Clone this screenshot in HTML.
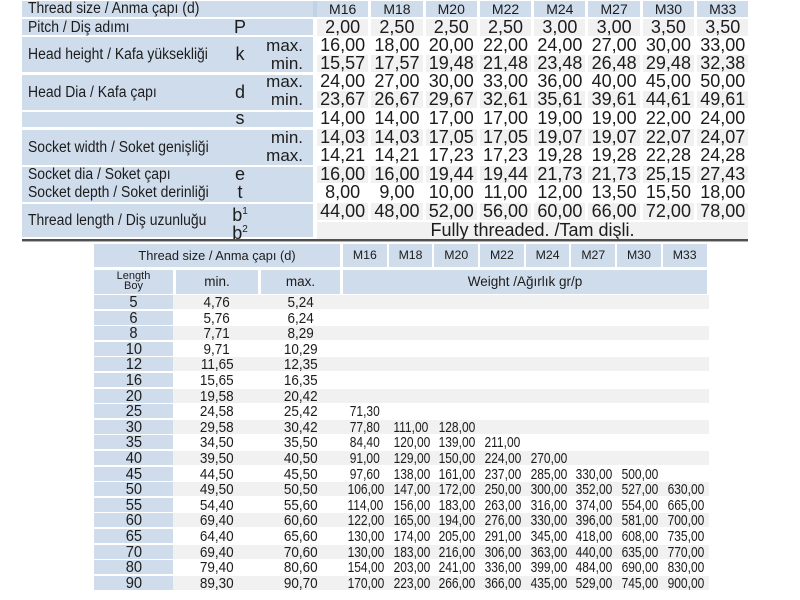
<!DOCTYPE html>
<html><head><meta charset="utf-8">
<style>
*{margin:0;padding:0;box-sizing:border-box}
html,body{width:800px;height:600px;background:#fff;overflow:hidden}
body{position:relative;font-family:"Liberation Sans","DejaVu Sans",sans-serif;color:#1c1c1c}
.a{position:absolute}
.b{background:#cfdcec}
.g{background:#f1f1f1}
.lab{position:absolute;left:28px;font-size:15.5px;white-space:nowrap;transform:scaleX(0.9);transform-origin:0 50%}
.sym{position:absolute;left:229px;width:22px;text-align:center;font-size:18px}
.mm{position:absolute;right:497px;font-size:17px;text-align:right}
.r{position:absolute;left:317px;display:flex;gap:3px;font-size:18px}
.r span{width:51.3px;text-align:center;display:block;white-space:nowrap}
.lr{position:absolute;left:94px;display:flex;height:14px;line-height:15px;font-size:15px}
.lr span{display:block;text-align:center;white-space:nowrap}
.lr b{font-weight:normal;display:inline-block;transform:scaleX(0.9)}
.lr .L{width:79px;background:#cfdcec;margin-right:3px;font-size:16px}
.lr .L b{transform:scaleX(0.92)}
.lr .mn{width:82px;margin-right:3px}
.lr .mx{width:79px;margin-right:3px}
.lr .w{width:43.7px;margin-right:2px;font-size:15px}
.lr .w b{transform:scaleX(0.8)}
.lr.g .mn,.lr.g .mx,.lr.g .w{background:#f1f1f1}
</style></head><body>

<div class="a b" style="left:22px;top:1px;width:291px;height:16px"></div>
<div class="a b" style="left:22px;top:19px;width:291px;height:16px"></div>
<div class="a b" style="left:22px;top:37px;width:291px;height:35px"></div>
<div class="a b" style="left:22px;top:75px;width:291px;height:35px"></div>
<div class="a b" style="left:22px;top:112px;width:291px;height:15px"></div>
<div class="a b" style="left:22px;top:130px;width:291px;height:35px"></div>
<div class="a b" style="left:22px;top:167px;width:291px;height:35px"></div>
<div class="a b" style="left:22px;top:204px;width:291px;height:33px"></div>
<div class="a" style="left:313px;top:1px;width:4px;height:16px;background:#c3d3e6"></div>

<div class="lab" style="top:1px;line-height:16px">Thread size / Anma çapı (d)</div>
<div class="lab" style="top:19px;line-height:17px">Pitch / Diş adımı</div>
<div class="lab" style="top:37px;line-height:35px">Head height / Kafa yüksekliği</div>
<div class="lab" style="top:75px;line-height:35px">Head Dia / Kafa çapı</div>
<div class="lab" style="top:130px;line-height:35px">Socket width / Soket genişliği</div>
<div class="lab" style="top:166px;line-height:17px">Socket dia / Soket çapı</div>
<div class="lab" style="top:184px;line-height:17px">Socket depth / Soket derinliği</div>
<div class="lab" style="top:204px;line-height:33px">Thread length / Diş uzunluğu</div>

<div class="sym" style="top:19px;line-height:17px">P</div>
<div class="sym" style="top:37px;line-height:35px">k</div>
<div class="sym" style="top:75px;line-height:35px">d</div>
<div class="sym" style="top:110px;line-height:17px">s</div>
<div class="sym" style="top:166px;line-height:17px">e</div>
<div class="sym" style="top:184px;line-height:17px">t</div>
<div class="sym" style="top:203px;line-height:17px">b<sup style="font-size:10px">1</sup></div>
<div class="sym" style="top:221px;line-height:17px">b<sup style="font-size:10px">2</sup></div>

<div class="mm" style="top:37px;line-height:17px">max.</div>
<div class="mm" style="top:55px;line-height:17px">min.</div>
<div class="mm" style="top:73px;line-height:17px">max.</div>
<div class="mm" style="top:91px;line-height:17px">min.</div>
<div class="mm" style="top:129px;line-height:17px">min.</div>
<div class="mm" style="top:147px;line-height:17px">max.</div>

<div class="r" style="top:1px;height:16px;line-height:16px;font-size:14px"><span class="b">M16</span><span class="b">M18</span><span class="b">M20</span><span class="b">M22</span><span class="b">M24</span><span class="b">M27</span><span class="b">M30</span><span class="b">M33</span></div>
<div class="r" style="top:19px;height:17px;line-height:17px"><span class="g">2,00</span><span class="g">2,50</span><span class="g">2,50</span><span class="g">2,50</span><span class="g">3,00</span><span class="g">3,00</span><span class="g">3,50</span><span class="g">3,50</span></div>
<div class="r" style="top:37px;height:17px;line-height:17px"><span>16,00</span><span>18,00</span><span>20,00</span><span>22,00</span><span>24,00</span><span>27,00</span><span>30,00</span><span>33,00</span></div>
<div class="r" style="top:55px;height:17px;line-height:17px"><span class="g">15,57</span><span class="g">17,57</span><span class="g">19,48</span><span class="g">21,48</span><span class="g">23,48</span><span class="g">26,48</span><span class="g">29,48</span><span class="g">32,38</span></div>
<div class="r" style="top:73px;height:17px;line-height:17px"><span>24,00</span><span>27,00</span><span>30,00</span><span>33,00</span><span>36,00</span><span>40,00</span><span>45,00</span><span>50,00</span></div>
<div class="r" style="top:91px;height:17px;line-height:17px"><span class="g">23,67</span><span class="g">26,67</span><span class="g">29,67</span><span class="g">32,61</span><span class="g">35,61</span><span class="g">39,61</span><span class="g">44,61</span><span class="g">49,61</span></div>
<div class="r" style="top:110px;height:17px;line-height:17px"><span>14,00</span><span>14,00</span><span>17,00</span><span>17,00</span><span>19,00</span><span>19,00</span><span>22,00</span><span>24,00</span></div>
<div class="r" style="top:129px;height:17px;line-height:17px"><span class="g">14,03</span><span class="g">14,03</span><span class="g">17,05</span><span class="g">17,05</span><span class="g">19,07</span><span class="g">19,07</span><span class="g">22,07</span><span class="g">24,07</span></div>
<div class="r" style="top:147px;height:17px;line-height:17px"><span>14,21</span><span>14,21</span><span>17,23</span><span>17,23</span><span>19,28</span><span>19,28</span><span>22,28</span><span>24,28</span></div>
<div class="r" style="top:166px;height:17px;line-height:17px"><span class="g">16,00</span><span class="g">16,00</span><span class="g">19,44</span><span class="g">19,44</span><span class="g">21,73</span><span class="g">21,73</span><span class="g">25,15</span><span class="g">27,43</span></div>
<div class="r" style="top:184px;height:17px;line-height:17px"><span>8,00</span><span>9,00</span><span>10,00</span><span>11,00</span><span>12,00</span><span>13,50</span><span>15,50</span><span>18,00</span></div>
<div class="r" style="top:203px;height:17px;line-height:17px"><span class="g">44,00</span><span class="g">48,00</span><span class="g">52,00</span><span class="g">56,00</span><span class="g">60,00</span><span class="g">66,00</span><span class="g">72,00</span><span class="g">78,00</span></div>
<div class="a g" style="left:317px;top:222px;width:431px;height:17px;line-height:17px;text-align:center;font-size:18px">Fully threaded. /Tam dişli.</div>

<div class="a" style="left:22px;top:239px;width:726px;height:2px;background:#505050"></div>
<div class="a" style="left:22px;top:241px;width:726px;height:1px;background:#b0b0b0"></div>

<div class="a b" style="left:94px;top:244px;width:246px;height:23px;line-height:23px;text-align:center;font-size:12.8px">Thread size / Anma çapı (d)</div>
<div class="a" style="left:343px;top:244px;display:flex;height:23px;line-height:23px;font-size:12.3px">
<span class="b" style="width:43.7px;margin-right:2px;text-align:center">M16</span><span class="b" style="width:43.7px;margin-right:2px;text-align:center">M18</span><span class="b" style="width:43.7px;margin-right:2px;text-align:center">M20</span><span class="b" style="width:43.7px;margin-right:2px;text-align:center">M22</span><span class="b" style="width:43.7px;margin-right:2px;text-align:center">M24</span><span class="b" style="width:43.7px;margin-right:2px;text-align:center">M27</span><span class="b" style="width:43.7px;margin-right:2px;text-align:center">M30</span><span class="b" style="width:43.7px;text-align:center">M33</span></div>

<div class="a b" style="left:94px;top:270px;width:79px;height:24px;text-align:center;font-size:11px;line-height:9.5px;padding-top:2px">Length<br>Boy</div>
<div class="a b" style="left:176px;top:270px;width:82px;height:24px;line-height:24px;text-align:center;font-size:13.5px">min.</div>
<div class="a b" style="left:261px;top:270px;width:79px;height:24px;line-height:24px;text-align:center;font-size:13.5px">max.</div>
<div class="a b" style="left:343px;top:270px;width:364px;height:24px;line-height:24px;text-align:center;font-size:13.5px">Weight /Ağırlık gr/p</div>

<div class="lr g" style="top:295px"><span class="L"><b>5</b></span><span class="mn"><b>4,76</b></span><span class="mx"><b>5,24</b></span><span class="w"></span><span class="w"></span><span class="w"></span><span class="w"></span><span class="w"></span><span class="w"></span><span class="w"></span><span class="w"></span></div>
<div class="lr" style="top:310.6px"><span class="L"><b>6</b></span><span class="mn"><b>5,76</b></span><span class="mx"><b>6,24</b></span></div>
<div class="lr g" style="top:326.2px"><span class="L"><b>8</b></span><span class="mn"><b>7,71</b></span><span class="mx"><b>8,29</b></span><span class="w"></span><span class="w"></span><span class="w"></span><span class="w"></span><span class="w"></span><span class="w"></span><span class="w"></span><span class="w"></span></div>
<div class="lr" style="top:341.8px"><span class="L"><b>10</b></span><span class="mn"><b>9,71</b></span><span class="mx"><b>10,29</b></span></div>
<div class="lr g" style="top:357.4px"><span class="L"><b>12</b></span><span class="mn"><b>11,65</b></span><span class="mx"><b>12,35</b></span><span class="w"></span><span class="w"></span><span class="w"></span><span class="w"></span><span class="w"></span><span class="w"></span><span class="w"></span><span class="w"></span></div>
<div class="lr" style="top:373px"><span class="L"><b>16</b></span><span class="mn"><b>15,65</b></span><span class="mx"><b>16,35</b></span></div>
<div class="lr g" style="top:388.6px"><span class="L"><b>20</b></span><span class="mn"><b>19,58</b></span><span class="mx"><b>20,42</b></span><span class="w"></span><span class="w"></span><span class="w"></span><span class="w"></span><span class="w"></span><span class="w"></span><span class="w"></span><span class="w"></span></div>
<div class="lr" style="top:404.2px"><span class="L"><b>25</b></span><span class="mn"><b>24,58</b></span><span class="mx"><b>25,42</b></span><span class="w"><b>71,30</b></span></div>
<div class="lr g" style="top:419.8px"><span class="L"><b>30</b></span><span class="mn"><b>29,58</b></span><span class="mx"><b>30,42</b></span><span class="w"><b>77,80</b></span><span class="w"><b>111,00</b></span><span class="w"><b>128,00</b></span><span class="w"></span><span class="w"></span><span class="w"></span><span class="w"></span><span class="w"></span></div>
<div class="lr" style="top:435.4px"><span class="L"><b>35</b></span><span class="mn"><b>34,50</b></span><span class="mx"><b>35,50</b></span><span class="w"><b>84,40</b></span><span class="w"><b>120,00</b></span><span class="w"><b>139,00</b></span><span class="w"><b>211,00</b></span></div>
<div class="lr g" style="top:451px"><span class="L"><b>40</b></span><span class="mn"><b>39,50</b></span><span class="mx"><b>40,50</b></span><span class="w"><b>91,00</b></span><span class="w"><b>129,00</b></span><span class="w"><b>150,00</b></span><span class="w"><b>224,00</b></span><span class="w"><b>270,00</b></span><span class="w"></span><span class="w"></span><span class="w"></span></div>
<div class="lr" style="top:466.6px"><span class="L"><b>45</b></span><span class="mn"><b>44,50</b></span><span class="mx"><b>45,50</b></span><span class="w"><b>97,60</b></span><span class="w"><b>138,00</b></span><span class="w"><b>161,00</b></span><span class="w"><b>237,00</b></span><span class="w"><b>285,00</b></span><span class="w"><b>330,00</b></span><span class="w"><b>500,00</b></span></div>
<div class="lr g" style="top:482.2px"><span class="L"><b>50</b></span><span class="mn"><b>49,50</b></span><span class="mx"><b>50,50</b></span><span class="w"><b>106,00</b></span><span class="w"><b>147,00</b></span><span class="w"><b>172,00</b></span><span class="w"><b>250,00</b></span><span class="w"><b>300,00</b></span><span class="w"><b>352,00</b></span><span class="w"><b>527,00</b></span><span class="w"><b>630,00</b></span></div>
<div class="lr" style="top:497.8px"><span class="L"><b>55</b></span><span class="mn"><b>54,40</b></span><span class="mx"><b>55,60</b></span><span class="w"><b>114,00</b></span><span class="w"><b>156,00</b></span><span class="w"><b>183,00</b></span><span class="w"><b>263,00</b></span><span class="w"><b>316,00</b></span><span class="w"><b>374,00</b></span><span class="w"><b>554,00</b></span><span class="w"><b>665,00</b></span></div>
<div class="lr g" style="top:513.4px"><span class="L"><b>60</b></span><span class="mn"><b>69,40</b></span><span class="mx"><b>60,60</b></span><span class="w"><b>122,00</b></span><span class="w"><b>165,00</b></span><span class="w"><b>194,00</b></span><span class="w"><b>276,00</b></span><span class="w"><b>330,00</b></span><span class="w"><b>396,00</b></span><span class="w"><b>581,00</b></span><span class="w"><b>700,00</b></span></div>
<div class="lr" style="top:529px"><span class="L"><b>65</b></span><span class="mn"><b>64,40</b></span><span class="mx"><b>65,60</b></span><span class="w"><b>130,00</b></span><span class="w"><b>174,00</b></span><span class="w"><b>205,00</b></span><span class="w"><b>291,00</b></span><span class="w"><b>345,00</b></span><span class="w"><b>418,00</b></span><span class="w"><b>608,00</b></span><span class="w"><b>735,00</b></span></div>
<div class="lr g" style="top:544.6px"><span class="L"><b>70</b></span><span class="mn"><b>69,40</b></span><span class="mx"><b>70,60</b></span><span class="w"><b>130,00</b></span><span class="w"><b>183,00</b></span><span class="w"><b>216,00</b></span><span class="w"><b>306,00</b></span><span class="w"><b>363,00</b></span><span class="w"><b>440,00</b></span><span class="w"><b>635,00</b></span><span class="w"><b>770,00</b></span></div>
<div class="lr" style="top:560.2px"><span class="L"><b>80</b></span><span class="mn"><b>79,40</b></span><span class="mx"><b>80,60</b></span><span class="w"><b>154,00</b></span><span class="w"><b>203,00</b></span><span class="w"><b>241,00</b></span><span class="w"><b>336,00</b></span><span class="w"><b>399,00</b></span><span class="w"><b>484,00</b></span><span class="w"><b>690,00</b></span><span class="w"><b>830,00</b></span></div>
<div class="lr g" style="top:575.8px"><span class="L"><b>90</b></span><span class="mn"><b>89,30</b></span><span class="mx"><b>90,70</b></span><span class="w"><b>170,00</b></span><span class="w"><b>223,00</b></span><span class="w"><b>266,00</b></span><span class="w"><b>366,00</b></span><span class="w"><b>435,00</b></span><span class="w"><b>529,00</b></span><span class="w"><b>745,00</b></span><span class="w"><b>900,00</b></span></div>

</body></html>
